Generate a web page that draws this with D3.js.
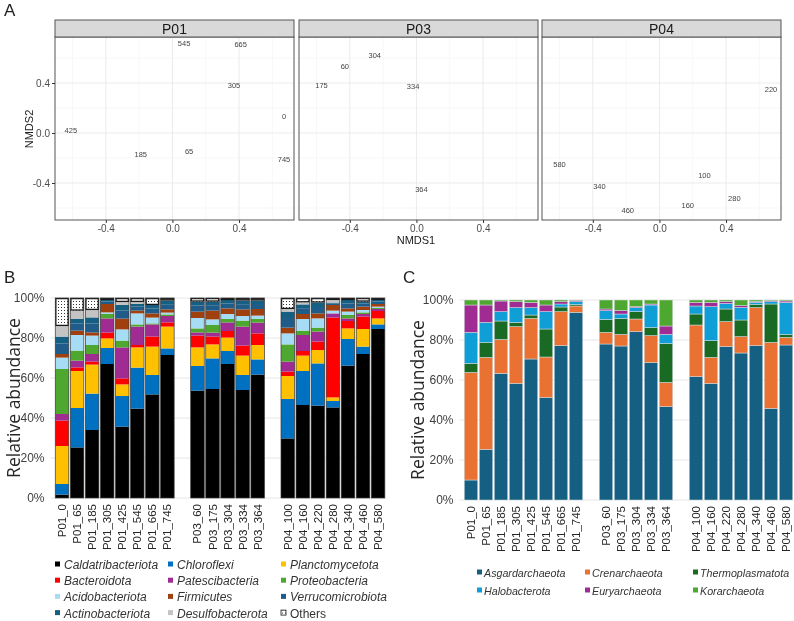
<!DOCTYPE html>
<html>
<head>
<meta charset="utf-8">
<script src="https://cdn.jsdelivr.net/npm/d3@7"></script>
<style>
  body { margin: 0; background: #fff; }
  svg { display: block; font-family: "Liberation Sans", Arial, sans-serif; will-change: transform; }
</style>
</head>
<body>
<svg id="fig" width="794" height="621"></svg>
<script>
// ---- panel A: NMDS ordination, one facet per site
var sites = ["P01", "P03", "P04"];
var nmdsSite  = ["P01","P01","P01","P01","P01","P01","P01","P01",
                 "P03","P03","P03","P03","P03",
                 "P04","P04","P04","P04","P04","P04","P04"];
var nmdsDepth = ["545","665","305","425","185","65","0","745",
                 "304","60","175","334","364",
                 "220","580","100","340","280","160","460"];
var nmds1 = [0.07, 0.41, 0.37, -0.61, -0.19, 0.10, 0.67, 0.67,
             -0.25, -0.43, -0.57, -0.02, 0.03,
             0.67, -0.60, 0.27, -0.36, 0.45, 0.17, -0.19];
var nmds2 = [0.72, 0.71, 0.38, 0.02, -0.17, -0.15, 0.13, -0.21,
             0.62, 0.53, 0.38, 0.37, -0.45,
             0.35, -0.25, -0.34, -0.43, -0.52, -0.58, -0.62];
var nmdsTicks = [-0.4, 0.0, 0.4];
var nmdsMinor = [-0.6, -0.2, 0.2, 0.6];

// ---- panels B and C: samples
var samples = ["P01_0","P01_65","P01_185","P01_305","P01_425","P01_545","P01_665","P01_745",
               "P03_60","P03_175","P03_304","P03_334","P03_364",
               "P04_100","P04_160","P04_220","P04_280","P04_340","P04_460","P04_580"];

// bacterial phyla (% of reads), bottom to top
var bacPhyla = ["Caldatribacteriota","Chloroflexi","Planctomycetota","Bacteroidota","Patescibacteria",
                "Proteobacteria","Acidobacteriota","Firmicutes","Verrucomicrobiota","Actinobacteriota",
                "Desulfobacterota","Others"];
var caldatribacteriota = [1.7, 25.3, 34, 67, 35.7, 44.7, 51.8, 71.5, 53.7, 54.5, 67, 54, 61.7, 29.8, 46.5, 46.2, 45.3, 66.2, 72, 84.5];
var chloroflexi        = [5.3, 19.7, 18.2, 8, 15.3, 20.5, 9.7, 3.3, 12.3, 15.3, 6.5, 7.5, 7.6, 19.7, 17, 21.1, 3.2, 13.3, 3.7, 2.3];
var planctomycetota    = [19, 18.5, 14.5, 4.8, 5.8, 10.1, 14.2, 10.9, 9.3, 7, 6.7, 9.7, 7.2, 11.5, 7.7, 6.7, 1.8, 5.3, 8.8, 3];
var bacteroidota       = [12.7, 1.8, 1.5, 2.9, 3, 1.2, 5, 2.1, 5.9, 3.9, 3.3, 5, 5.8, 2.2, 2.3, 4.2, 39.9, 3.7, 6.2, 3.7];
var patescibacteria    = [3.3, 3.4, 3.8, 7.1, 15.5, 9.2, 6.1, 3.2, 1.6, 2, 4.3, 9.5, 5.4, 5, 8, 5, 2.1, 1.3, 1.3, 1];
var proteobacteria     = [22.5, 5, 4.5, 2.2, 3.4, 1.1, 0.5, 0.8, 2, 3.8, 1.7, 3, 1.8, 8.6, 2.2, 2, 0, 1.7, 0.8, 0.5];
var acidobacteriota    = [5.7, 7.8, 4.7, 0.8, 5.6, 5.5, 2.9, 0.9, 5.2, 2.8, 2.5, 2.3, 1.7, 5.5, 5.8, 4.6, 1.4, 1.7, 1.2, 0.7];
var firmicutes         = [1.8, 2.2, 1.6, 4.2, 5.4, 1.4, 2.1, 1.6, 3.2, 4.4, 2.8, 3.3, 3.3, 2.9, 2.5, 2.5, 2.8, 1.6, 1.7, 1.3];
var verrucomicrobiota  = [5.2, 3.5, 4.5, 1.2, 4.1, 2, 2.5, 2.6, 3, 2.7, 2.5, 2.6, 2.5, 4.8, 2.9, 3.2, 0.7, 2.5, 1.5, 1.2];
var actinobacteriota   = [3.5, 2.3, 3, 0.8, 2.7, 1.3, 1.7, 1.8, 2, 1.8, 1.7, 1.8, 1.7, 3.2, 1.9, 2.2, 0.5, 1.7, 1, 0.8];
var desulfobacterota   = [5.3, 4.2, 3.7, 0, 1.5, 1, 0, 0, 0, 0, 0, 0, 0, 1.3, 1, 0, 1.3, 0, 0, 0];
var others             = [14, 6.3, 6, 1, 2, 2, 3.5, 1.3, 1.8, 1.8, 1, 1.3, 1.3, 5.5, 2.2, 2.3, 1, 1, 1.8, 1];
var bacColors = ["#000000","#0070C0","#FFC000","#FF0000","#A02B93","#4EA72E",
                 "#A6DDF5","#A0400F","#1F5C8A","#156082","#C4C4C4","url(#dots)"];

// archaeal phyla (% of reads), bottom to top
var arcPhyla = ["Asgardarchaeota","Crenarchaeota","Thermoplasmatota","Halobacterota","Euryarchaeota","Korarchaeota"];
var asgardarchaeota  = [10, 25.3, 63.3, 58.3, 70.5, 51.2, 77.2, 93.8, 78, 77, 84.2, 68.7, 46.7, 61.7, 58.3, 76.7, 73.5, 77.2, 45.8, 77.5];
var crenarchaeota    = [53.8, 46, 17, 28.4, 20.3, 20.3, 17, 3.2, 5.8, 5.8, 6.3, 13.5, 12.1, 25.8, 13, 12.5, 8.2, 19, 33, 3.8];
var thermoplasmatota = [4.5, 7.5, 9.2, 2.1, 1.7, 14, 2.3, 0.8, 6.5, 8, 3.7, 4, 19.5, 5.5, 8.4, 6.3, 8.3, 1.6, 19.2, 1.5];
var halobacterota    = [15.5, 10, 4.7, 7.4, 3.7, 8.7, 1.5, 1.4, 4.4, 2.2, 2, 11.3, 4.5, 4, 17, 2.8, 6.3, 1, 1.2, 16];
var euryarchaeota    = [13.7, 8.7, 5.3, 3, 2.6, 3.3, 1.2, 0.6, 0.8, 1.7, 0.5, 0.5, 4.2, 1.8, 2.1, 0.9, 0.9, 0.4, 0.5, 0.7];
var korarchaeota     = [2.5, 2.5, 0.5, 0.8, 1.2, 2.5, 0.8, 0.2, 4.5, 5.3, 3.3, 2, 13, 1.2, 1.2, 0.8, 2.8, 0.8, 0.3, 0.5];
var arcColors = ["#156082","#E97132","#196B24","#0F9ED5","#A02B93","#4EA72E"];

var pctTicks = [0, 0.2, 0.4, 0.6, 0.8, 1];

var svg = d3.select("#fig");
var fmt1 = function(d) { return d3.format(".1f")(d).replace("\u2212", "-"); };

// dotted fill for "Others"
var pat = svg.append("defs").append("pattern")
    .attr("id", "dots").attr("width", 3).attr("height", 3)
    .attr("patternUnits", "userSpaceOnUse");
pat.append("rect").attr("width", 3).attr("height", 3).attr("fill", "#fff");
pat.append("rect").attr("x", 1).attr("y", 1).attr("width", 1).attr("height", 1).attr("fill", "#333");

// ================= A =================
svg.append("text").attr("x", 4).attr("y", 16)
   .style("font-size", "17px").attr("fill", "#222").text("A");

var panelW = 239, panelTop = 37, panelBot = 220;
var panelLeft = { P01: 55, P03: 299, P04: 542 };
var yA = d3.scaleLinear().domain([-0.696, 0.768]).range([panelBot, panelTop]);

sites.forEach(function(s) {
  var x0 = panelLeft[s];
  var xA = d3.scaleLinear().domain([-0.705, 0.73]).range([x0, x0 + panelW]);
  var g = svg.append("g");

  // grid
  g.selectAll("line.vmin").data(nmdsMinor).enter().append("line")
    .attr("x1", xA).attr("x2", xA).attr("y1", panelTop).attr("y2", panelBot)
    .attr("stroke", "#f2f2f2").attr("stroke-width", 0.6);
  g.selectAll("line.hmin").data(nmdsMinor).enter().append("line")
    .attr("y1", yA).attr("y2", yA).attr("x1", x0).attr("x2", x0 + panelW)
    .attr("stroke", "#f2f2f2").attr("stroke-width", 0.6);
  g.selectAll("line.vmaj").data(nmdsTicks).enter().append("line")
    .attr("x1", xA).attr("x2", xA).attr("y1", panelTop).attr("y2", panelBot)
    .attr("stroke", "#ebebeb").attr("stroke-width", 1);
  g.selectAll("line.hmaj").data(nmdsTicks).enter().append("line")
    .attr("y1", yA).attr("y2", yA).attr("x1", x0).attr("x2", x0 + panelW)
    .attr("stroke", "#ebebeb").attr("stroke-width", 1);

  // points as labels
  var idx = d3.range(nmdsSite.length).filter(function(i) { return nmdsSite[i] === s; });
  g.append("g")
    .selectAll("text").data(idx).enter().append("text")
    .attr("x", function(i) { return xA(nmds1[i]); })
    .attr("y", function(i) { return yA(nmds2[i]); })
    .attr("dy", "0.35em").attr("text-anchor", "middle")
    .style("font-size", "7.5px").attr("fill", "#444")
    .text(function(i) { return nmdsDepth[i]; });

  // panel border + strip
  g.append("rect").attr("x", x0).attr("y", panelTop).attr("width", panelW)
    .attr("height", panelBot - panelTop).attr("fill", "none").attr("stroke", "#555");
  g.append("rect").attr("x", x0).attr("y", 20).attr("width", panelW).attr("height", 17)
    .attr("fill", "#d9d9d9").attr("stroke", "#555");
  g.append("text").attr("x", x0 + panelW / 2).attr("y", 34).attr("text-anchor", "middle")
    .style("font-size", "14px").attr("fill", "#1a1a1a").text(s);

  // x axis
  var ax = g.append("g").attr("transform", "translate(0," + panelBot + ")")
    .call(d3.axisBottom(xA).tickValues(nmdsTicks).tickSize(3).tickPadding(2).tickFormat(fmt1));
  ax.select(".domain").remove();
  ax.selectAll("line").attr("stroke", "#333");
  ax.selectAll("text").attr("fill", "#4d4d4d").style("font-size", "10px")
    .style("font-family", "Liberation Sans");

  if (s === "P01") {
    var ay = g.append("g").attr("transform", "translate(" + x0 + ",0)")
      .call(d3.axisLeft(yA).tickValues(nmdsTicks).tickSize(3).tickPadding(2).tickFormat(fmt1));
    ay.select(".domain").remove();
    ay.selectAll("line").attr("stroke", "#333");
    ay.selectAll("text").attr("fill", "#4d4d4d").style("font-size", "10px")
      .style("font-family", "Liberation Sans");
  }
});
svg.append("text").attr("x", 416).attr("y", 244).attr("text-anchor", "middle")
   .style("font-size", "11px").attr("fill", "#222").text("NMDS1");
svg.append("text").attr("transform", "translate(33,129) rotate(-90)").attr("text-anchor", "middle")
   .style("font-size", "11px").attr("fill", "#222").text("NMDS2");

// ================= B and C: stacked bars =================
var slots = samples.slice(0, 8).concat(["gap1"], samples.slice(8, 13), ["gap2"], samples.slice(13));

function stackedPanel(opt) {
  var rows = samples.map(function(s, i) {
    var r = { sample: s };
    opt.keys.forEach(function(k, j) { r[k] = opt.series[j][i]; });
    return r;
  });
  var stacked = d3.stack().keys(opt.keys).offset(d3.stackOffsetExpand)(rows);

  var x = d3.scaleBand().domain(slots).range(opt.xRange).paddingInner(0.1).paddingOuter(0.05);
  var y = d3.scaleLinear().domain([0, 1]).range(opt.yRange);

  svg.append("text").attr("x", opt.letterX).attr("y", 283)
     .style("font-size", "17px").attr("fill", "#222").text(opt.letter);

  // grid
  svg.append("g").selectAll("line").data(pctTicks).enter().append("line")
    .attr("x1", opt.xRange[0] - 4).attr("x2", opt.xRange[1])
    .attr("y1", y).attr("y2", y).attr("stroke", "#e6e6e6").attr("stroke-width", 1);

  // y axis
  var ay = svg.append("g").attr("transform", "translate(" + (opt.xRange[0] - 4) + ",0)")
    .call(d3.axisLeft(y).tickValues(pctTicks).tickSize(0).tickPadding(6).tickFormat(d3.format(".0%")));
  ay.select(".domain").remove();
  ay.selectAll("text").attr("fill", "#404040").style("font-size", "12px")
    .style("font-family", "Liberation Sans");

  svg.append("text")
    .attr("transform", "translate(" + opt.titleX + "," + ((opt.yRange[0] + opt.yRange[1]) / 2) + ") rotate(-90)")
    .attr("text-anchor", "middle").style("font-family", "Open Sans").style("font-size", "17.5px")
    .attr("fill", "#262626").text("Relative abundance");

  // bars
  var layers = svg.append("g").selectAll("g").data(stacked).enter().append("g")
    .attr("fill", function(d, i) { return opt.colors[i]; });
  layers.selectAll("rect").data(function(d) { return d; }).enter().append("rect")
    .attr("x", function(d) { return x(d.data.sample); })
    .attr("width", x.bandwidth())
    .attr("y", function(d) { return y(d[1]); })
    .attr("height", function(d) { return Math.max(0, y(d[0]) - y(d[1])); })
    .attr("stroke", opt.segStroke).attr("stroke-width", opt.segStrokeW);

  if (opt.othersKey) {
    var oth = stacked[stacked.length - 1];
    svg.append("g").selectAll("rect").data(oth).enter().append("rect")
      .attr("x", function(d) { return x(d.data.sample) + 0.6; })
      .attr("width", x.bandwidth() - 1.2)
      .attr("y", function(d) { return y(d[1]) + 0.6; })
      .attr("height", function(d) { return Math.max(0.3, y(d[0]) - y(d[1]) - 1.2); })
      .attr("fill", "url(#dots)").attr("stroke", "#1a1a1a").attr("stroke-width", 1.3);
  }
  if (opt.barStroke) {
    svg.append("g").selectAll("rect").data(samples).enter().append("rect")
      .attr("x", function(s) { return x(s); }).attr("width", x.bandwidth())
      .attr("y", y(1)).attr("height", y(0) - y(1))
      .attr("fill", "none").attr("stroke", opt.barStroke).attr("stroke-width", 0.7);
  }

  // x labels
  svg.append("g").selectAll("text").data(samples).enter().append("text")
    .attr("transform", function(s) {
      return "translate(" + (x(s) + x.bandwidth() / 2 + 4) + "," + (opt.yRange[0] + 6) + ") rotate(-90)";
    })
    .attr("text-anchor", "end").style("font-size", "11.5px").attr("fill", "#262626")
    .text(function(s) { return s; });

  // legend
  var lg = svg.append("g").selectAll("g").data(opt.keys).enter().append("g")
    .attr("transform", function(k, i) {
      return "translate(" + (opt.legX + (i % 3) * opt.legDX) + "," + (opt.legY + Math.floor(i / 3) * opt.legDY) + ")";
    });
  lg.append("rect").attr("x", 0).attr("y", -4.5).attr("width", 5).attr("height", 5)
    .attr("fill", function(k, i) { return opt.colors[i]; })
    .attr("stroke", function(k) { return k === "Others" ? "#1a1a1a" : "none"; })
    .attr("stroke-width", 0.8);
  lg.append("text").attr("x", opt.legTextDX).attr("y", 0).attr("dy", "0.25em")
    .style("font-size", opt.legFont).attr("fill", "#333")
    .style("font-style", function(k) { return k === "Others" ? "normal" : "italic"; })
    .text(function(k) { return k; });
}

stackedPanel({
  letter: "B", letterX: 4, titleX: 20,
  keys: bacPhyla,
  series: [caldatribacteriota, chloroflexi, planctomycetota, bacteroidota, patescibacteria, proteobacteria,
           acidobacteriota, firmicutes, verrucomicrobiota, actinobacteriota, desulfobacterota, others],
  colors: bacColors,
  xRange: [54.5, 385.6], yRange: [498, 298],
  segStroke: "none", segStrokeW: 0, barStroke: "#3a3a3a", othersKey: true,
  legX: 55, legY: 566, legDX: 113, legDY: 16.2, legTextDX: 9, legFont: "12px"
});

stackedPanel({
  letter: "C", letterX: 403, titleX: 424,
  keys: arcPhyla,
  series: [asgardarchaeota, crenarchaeota, thermoplasmatota, halobacterota, euryarchaeota, korarchaeota],
  colors: arcColors,
  xRange: [463.5, 793.5], yRange: [500, 300],
  segStroke: "#d6dde3", segStrokeW: 0.5, barStroke: null, othersKey: false,
  legX: 477, legY: 574, legDX: 108, legDY: 18, legTextDX: 7, legFont: "10.7px"
});
</script>
</body>
</html>
